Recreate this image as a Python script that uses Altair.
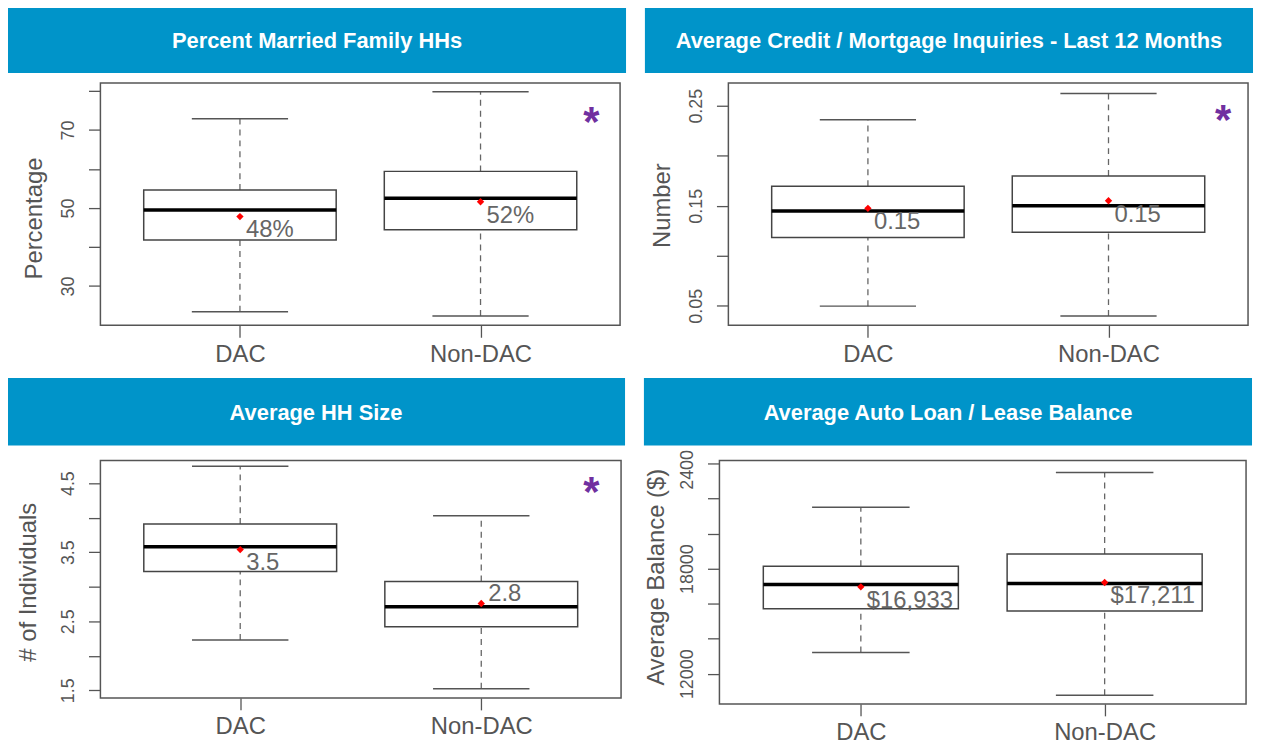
import altair as alt
import pandas as pd

# ---------------- data ----------------
GROUPS = ["DAC", "Non-DAC"]
GROUP_POS = [1, 2]

# Panel 1
P1_TITLE = "Percent Married Family HHs"
P1_YTITLE = "Percentage"
P1_LOW = [23.4, 22.3]
P1_Q1 = [41.8, 44.4]
P1_MED = [49.5, 52.5]
P1_Q3 = [54.6, 59.4]
P1_HIGH = [72.9, 79.8]
P1_MEAN = [47.8, 51.6]
P1_LABEL = ["48%", "52%"]
P1_LABEL_POS = ["below", "below"]
P1_TICKS = [30, 40, 50, 60, 70, 80]
P1_TICK_LABELS = ["30", "", "50", "", "70", ""]
P1_DOMAIN = [19.9, 82.1]

# Panel 2
P2_TITLE = "Average Credit / Mortgage Inquiries - Last 12 Months"
P2_YTITLE = "Number"
P2_LOW = [0.0497, 0.0398]
P2_Q1 = [0.1182, 0.1236]
P2_MED = [0.1447, 0.1500]
P2_Q3 = [0.1696, 0.1798]
P2_HIGH = [0.2360, 0.2622]
P2_MEAN = [0.1474, 0.1550]
P2_LABEL = ["0.15", "0.15"]
P2_LABEL_POS = ["below", "below"]
P2_TICKS = [0.05, 0.10, 0.15, 0.20, 0.25]
P2_TICK_LABELS = ["0.05", "", "0.15", "", "0.25"]
P2_DOMAIN = [0.0305, 0.2728]

# Panel 3
P3_TITLE = "Average HH Size"
P3_YTITLE = "# of Individuals"
P3_LOW = [2.228, 1.523]
P3_Q1 = [3.221, 2.421]
P3_MED = [3.580, 2.709]
P3_Q3 = [3.907, 3.077]
P3_HIGH = [4.746, 4.027]
P3_MEAN = [3.537, 2.756]
P3_LABEL = ["3.5", "2.8"]
P3_LABEL_POS = ["below", "above"]
P3_TICKS = [1.5, 2.0, 2.5, 3.0, 3.5, 4.0, 4.5]
P3_TICK_LABELS = ["1.5", "", "2.5", "", "3.5", "", "4.5"]
P3_DOMAIN = [1.389, 4.828]

# Panel 4
P4_TITLE = "Average Auto Loan / Lease Balance"
P4_YTITLE = "Average Balance ($)"
P4_LOW = [13215, 10774]
P4_Q1 = [15712, 15576]
P4_MED = [17092, 17149]
P4_Q3 = [18130, 18834]
P4_HIGH = [21502, 23489]
P4_MEAN = [16960, 17205]
P4_LABEL = ["$16,933", "$17,211"]
P4_LABEL_POS = ["below", "below"]
P4_TICKS = [12000, 14000, 16000, 18000, 20000, 22000, 24000]
P4_TICK_LABELS = ["12000", "", "", "18000", "", "", "2400"]
P4_DOMAIN = [10280, 24170]

STAR = "*"

# ---------------- styles ----------------
FONT = "Liberation Sans"
BLUE = "#0094C9"
AXC = "#555555"
TXT = "#555555"
LABC = "#666666"
PURPLE = "#7030A0"


def tick_expr(vals, labs):
    parts = []
    for v, l in zip(vals, labs):
        parts.append(f"abs(datum.value - {v}) < {abs(v) * 1e-6 + 1e-9} ? '{l}'")
    return " : ".join(parts) + " : ''"


def make_panel(title, ytitle, low, q1, med, q3, high, mean, labels, lpos,
               ticks, tlabels, domain, lay):
    W, H = lay["W"], lay["H"]
    df = pd.DataFrame({
        "group": GROUPS, "pos": GROUP_POS, "low": low, "q1": q1, "med": med,
        "q3": q3, "high": high, "mean": mean, "label": labels, "lpos": lpos,
    })
    xscale = alt.Scale(domain=[0.42, 2.58], nice=False, zero=False)
    xaxis = alt.Axis(values=GROUP_POS,
                     labelExpr="datum.value == 1 ? 'DAC' : 'Non-DAC'",
                     title=None, grid=False, domain=False, tickSize=12,
                     tickColor=AXC, tickWidth=1.3, labelFontSize=24,
                     labelFont=FONT, labelColor=TXT, labelPadding=5,
                     labelAngle=0, labelFlush=False, labelOverlap=False)
    yscale = alt.Scale(domain=domain, nice=False, zero=False)
    yargs = dict(values=ticks, labelExpr=tick_expr(ticks, tlabels),
                 title=ytitle, grid=False, domain=False, tickSize=12,
                 tickColor=AXC, tickWidth=1.3, labelFontSize=18,
                 labelFont=FONT, labelColor=TXT, labelAngle=-90,
                 labelAlign="center", labelBaseline="bottom",
                 labelPadding=11, labelFlush=False, labelOverlap=False,
                 titleFont=FONT, titleFontSize=24, titleFontWeight="normal",
                 titleColor=TXT, titleAngle=270, titleX=lay["tx"],
                 titleY=lay["ty"], titleBaseline="middle",
                 titleAlign="center")
    if lay.get("loff") is not None:
        yargs["labelOffset"] = lay["loff"]
    yaxis = alt.Axis(**yargs)

    def X(f):
        return alt.X(f"{f}:Q", scale=xscale, axis=xaxis)

    def Y(f):
        return alt.Y(f"{f}:Q", scale=yscale, axis=yaxis)

    base = alt.Chart(df).transform_calculate(
        bx1="datum.pos - 0.4", bx2="datum.pos + 0.4",
        cx1="datum.pos - 0.2", cx2="datum.pos + 0.2")

    bx = lay["bar"]
    tdf = pd.DataFrame({"title": [title]})
    bar = alt.Chart(tdf).mark_rect(color=BLUE).encode(
        x=alt.value(bx[0]), x2=alt.value(bx[1]),
        y=alt.value(bx[2]), y2=alt.value(bx[3]))
    btxt = alt.Chart(tdf).mark_text(
        color="white", font=FONT, fontSize=22, fontWeight="bold",
        align="center", baseline="middle").encode(
        x=alt.value((bx[0] + bx[1]) / 2), y=alt.value((bx[2] + bx[3]) / 2 + 1),
        text="title:N")

    wu = base.mark_rule(color="#666666", strokeWidth=1.3, strokeDash=[6, 5]).encode(
        x=X("pos"), y=Y("q3"), y2=alt.Y2("high"))
    wl = base.mark_rule(color="#666666", strokeWidth=1.3, strokeDash=[6, 5]).encode(
        x=X("pos"), y=Y("low"), y2=alt.Y2("q1"))
    cu = base.mark_rule(color="#555555", strokeWidth=1.5).encode(
        x=X("cx1"), x2=alt.X2("cx2"), y=Y("high"))
    cl = base.mark_rule(color="#555555", strokeWidth=1.5).encode(
        x=X("cx1"), x2=alt.X2("cx2"), y=Y("low"))
    box = base.mark_rect(fill="white", stroke="#444444", strokeWidth=1.5).encode(
        x=X("bx1"), x2=alt.X2("bx2"), y=Y("q1"), y2=alt.Y2("q3"))
    md = base.mark_rule(color="black", strokeWidth=3.5).encode(
        x=X("bx1"), x2=alt.X2("bx2"), y=Y("med"))
    mn = base.mark_point(shape="diamond", filled=True, color="#ff0000",
                         size=55, opacity=1).encode(x=X("pos"), y=Y("mean"))
    lb = base.transform_filter("datum.lpos == 'below'").mark_text(
        font=FONT, fontSize=24, color=LABC, align="left", baseline="top",
        dx=6, dy=2).encode(x=X("pos"), y=Y("mean"), text="label:N")
    la = base.transform_filter("datum.lpos == 'above'").mark_text(
        font=FONT, fontSize=24, color=LABC, align="left",
        baseline="alphabetic", dx=7, dy=-3).encode(
        x=X("pos"), y=Y("mean"), text="label:N")
    layers = [bar, btxt, wu, wl, cu, cl, box, md, mn, lb, la]
    if lay.get("star") is not None:
        sx, sy = lay["star"]
        st = alt.Chart(pd.DataFrame({"s": [STAR]})).mark_text(
            font=FONT, fontSize=42, fontWeight="bold", color=PURPLE,
            align="center", baseline="alphabetic").encode(
            x=alt.value(sx), y=alt.value(sy + 23), text="s:N")
        layers.append(st)
    return alt.layer(*layers).properties(width=W, height=H)


L1 = dict(W=523, H=244, bar=[-93, 529, -76, -10], tx=-66, ty=136, star=(494, 30))
L2 = dict(W=523, H=244, bar=[-84, 528, -76, -10], tx=-66, ty=123, star=(498, 28))
L3 = dict(W=524, H=239, bar=[-94, 528, -83, -15], tx=-72, ty=122, star=(494, 23))
L4 = dict(W=530, H=245, bar=[-76, 536, -83, -15], tx=-63, ty=117, star=None,
          loff={"condition": {"test": "datum.value == 24000", "value": 6}, "value": 0})

p1 = make_panel(P1_TITLE, P1_YTITLE, P1_LOW, P1_Q1, P1_MED, P1_Q3, P1_HIGH,
                P1_MEAN, P1_LABEL, P1_LABEL_POS, P1_TICKS, P1_TICK_LABELS,
                P1_DOMAIN, L1)
p2 = make_panel(P2_TITLE, P2_YTITLE, P2_LOW, P2_Q1, P2_MED, P2_Q3, P2_HIGH,
                P2_MEAN, P2_LABEL, P2_LABEL_POS, P2_TICKS, P2_TICK_LABELS,
                P2_DOMAIN, L2)
p3 = make_panel(P3_TITLE, P3_YTITLE, P3_LOW, P3_Q1, P3_MED, P3_Q3, P3_HIGH,
                P3_MEAN, P3_LABEL, P3_LABEL_POS, P3_TICKS, P3_TICK_LABELS,
                P3_DOMAIN, L3)
p4 = make_panel(P4_TITLE, P4_YTITLE, P4_LOW, P4_Q1, P4_MED, P4_Q3, P4_HIGH,
                P4_MEAN, P4_LABEL, P4_LABEL_POS, P4_TICKS, P4_TICK_LABELS,
                P4_DOMAIN, L4)

row1 = alt.hconcat(p1, p2, spacing=17)
row2 = alt.hconcat(p3, p4, spacing=17)
chart = alt.vconcat(row1, row2, spacing=10).properties(
    padding={"top": -4, "left": -2, "right": 0, "bottom": 0},
    background="white"
).configure_view(stroke="#555555", strokeWidth=1.5)

chart.save("out.html", embed_options={"renderer": "svg", "actions": False})
